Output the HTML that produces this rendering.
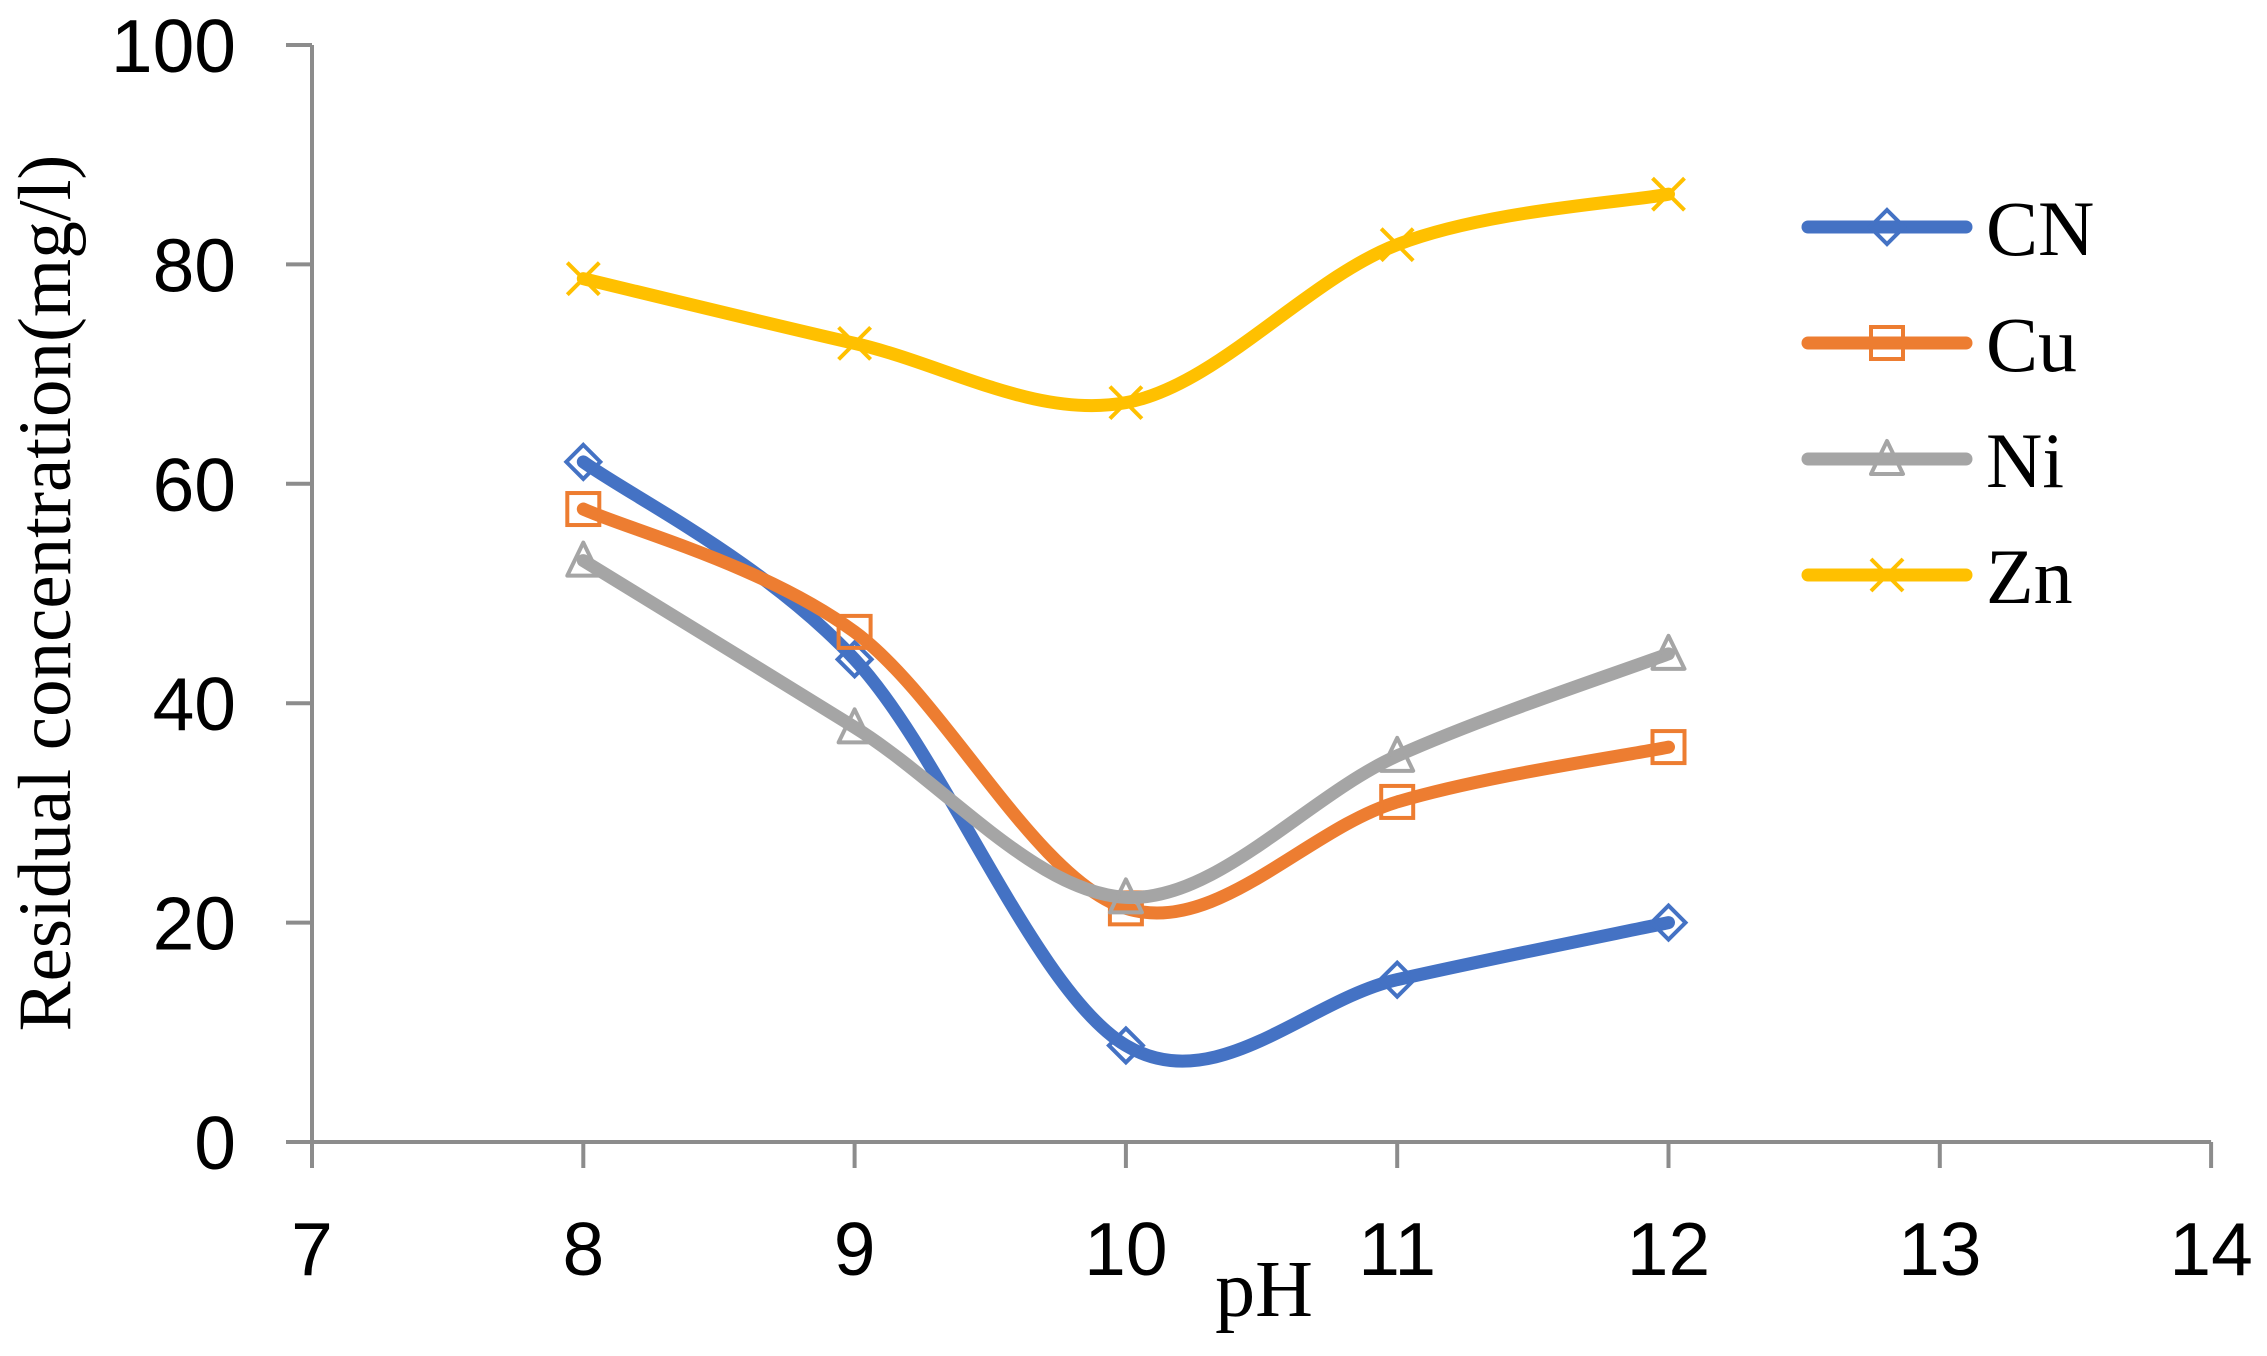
<!DOCTYPE html>
<html><head><meta charset="utf-8"><style>
html,body{margin:0;padding:0;background:#fff;}
svg{display:block;}
</style></head><body>
<svg id="chart" width="2267" height="1356" viewBox="0 0 2267 1356" xmlns="http://www.w3.org/2000/svg">
<g id="axes"></g>
<g id="series"></g>
<g id="legend"></g>
<text transform="translate(70,593) rotate(-90)" text-anchor="middle" font-family="Liberation Serif, serif" font-size="75">Residual concentration(mg/l)</text>
<text x="1264" y="1316" text-anchor="middle" font-family="Liberation Serif, serif" font-size="80">pH</text>
</svg>
<script>
const xCats = [8, 9, 10, 11, 12];
const cnVals = [62, 44, 8.8, 14.8, 20];
const cuVals = [57.7, 46.5, 21.3, 31, 36];
const niVals = [53, 37.8, 22.3, 35.2, 44.5];
const znVals = [78.7, 72.8, 67.4, 81.8, 86.4];
const seriesNames = ["CN", "Cu", "Ni", "Zn"];
const xTicks = [7, 8, 9, 10, 11, 12, 13, 14];
const yTicks = [0, 20, 40, 60, 80, 100];

const NS = "http://www.w3.org/2000/svg";
const X0 = 312, XU = 271.3, Y0 = 1142, YU = 10.97;
function sx(v){ return X0 + (v - 7) * XU; }
function sy(v){ return Y0 - v * YU; }
function mk(tag, attrs, parent){
  const e = document.createElementNS(NS, tag);
  for (const k in attrs) e.setAttribute(k, attrs[k]);
  parent.appendChild(e); return e;
}
const axes = document.getElementById('axes');
const gray = "#8c8c8c";
let l;
l = mk('line', {x1: sx(7), y1: sy(100), x2: sx(7), y2: Y0, stroke: gray, 'stroke-width': 4}, axes);


l = mk('line', {x1: sx(7) - 13, y1: Y0, x2: sx(14), y2: Y0, stroke: gray, 'stroke-width': 4}, axes);


yTicks.forEach(v => {
  const t = mk('line', {x1: sx(7) - 26, y1: sy(v), x2: sx(7), y2: sy(v), stroke: gray, 'stroke-width': 4}, axes);
  
  
  const tx = mk('text', {x: 236, y: sy(v) + 27, 'text-anchor': 'end', 'font-family': 'Liberation Sans, sans-serif', 'font-size': 75}, axes);
  tx.textContent = v;
  
  
});
xTicks.forEach(v => {
  const t = mk('line', {x1: sx(v), y1: Y0, x2: sx(v), y2: Y0 + 26, stroke: gray, 'stroke-width': 4}, axes);
  
  
  const tx = mk('text', {x: sx(v), y: 1275, 'text-anchor': 'middle', 'font-family': 'Liberation Sans, sans-serif', 'font-size': 75}, axes);
  tx.textContent = v;
  
  
});

function smoothPath(pts){
  let d = `M${pts[0][0]},${pts[0][1]}`;
  for (let i = 0; i < pts.length - 1; i++){
    const p0 = pts[Math.max(i-1,0)], p1 = pts[i], p2 = pts[i+1], p3 = pts[Math.min(i+2, pts.length-1)];
    const c1 = [p1[0] + (p2[0]-p0[0])/6, p1[1] + (p2[1]-p0[1])/6];
    const c2 = [p2[0] - (p3[0]-p1[0])/6, p2[1] - (p3[1]-p1[1])/6];
    d += ` C${c1[0]},${c1[1]} ${c2[0]},${c2[1]} ${p2[0]},${p2[1]}`;
  }
  return d;
}
function marker(type, x, y, color, parent){
  const s = 17;
  let m;
  if (type === 'diamond') m = mk('polygon', {points: `${x},${y-s} ${x+s},${y} ${x},${y+s} ${x-s},${y}`, fill: 'none', stroke: color, 'stroke-width': 4}, parent);
  else if (type === 'square') m = mk('rect', {x: x-16, y: y-16, width: 32, height: 32, fill: 'none', stroke: color, 'stroke-width': 4}, parent);
  else if (type === 'triangle') m = mk('polygon', {points: `${x},${y-18} ${x+16},${y+15} ${x-16},${y+15}`, fill: 'none', stroke: color, 'stroke-width': 4, 'stroke-linejoin': 'round'}, parent);
  else m = mk('path', {d: `M${x-16},${y-16} L${x+16},${y+16} M${x+16},${y-16} L${x-16},${y+16}`, stroke: color, 'stroke-width': 4}, parent);
  return m;
}
const colors = ["#4472c4", "#ed7d31", "#a5a5a5", "#ffc000"];
const markers = ["diamond", "square", "triangle", "cross"];
const allVals = [cnVals, cuVals, niVals, znVals];
const sg = document.getElementById('series');
allVals.forEach((vals, si) => {
  const g = mk('g', {}, sg);
  
  
  const pts = xCats.map((x, i) => [sx(x), sy(vals[i])]);
  const p = mk('path', {d: smoothPath(pts), fill: 'none', stroke: colors[si], 'stroke-width': 13, 'stroke-linecap': 'round'}, g);
  
  
  pts.forEach(pt => {
    const m = marker(markers[si], pt[0], pt[1], colors[si], g);
    
    
  });
});
const lg = document.getElementById('legend');
seriesNames.forEach((n, i) => {
  const y = 227 + i * 116;
  const g = mk('g', {}, lg);
  
  
  mk('line', {x1: 1808, y1: y, x2: 1966, y2: y, stroke: colors[i], 'stroke-width': 13, 'stroke-linecap': 'round'}, g);
  marker(markers[i], 1887, y, colors[i], g);
  const t = mk('text', {x: 1986, y: y + 28, 'font-family': 'Liberation Serif, serif', 'font-size': 78}, g);
  t.textContent = n;
});
</script>
</body></html>
